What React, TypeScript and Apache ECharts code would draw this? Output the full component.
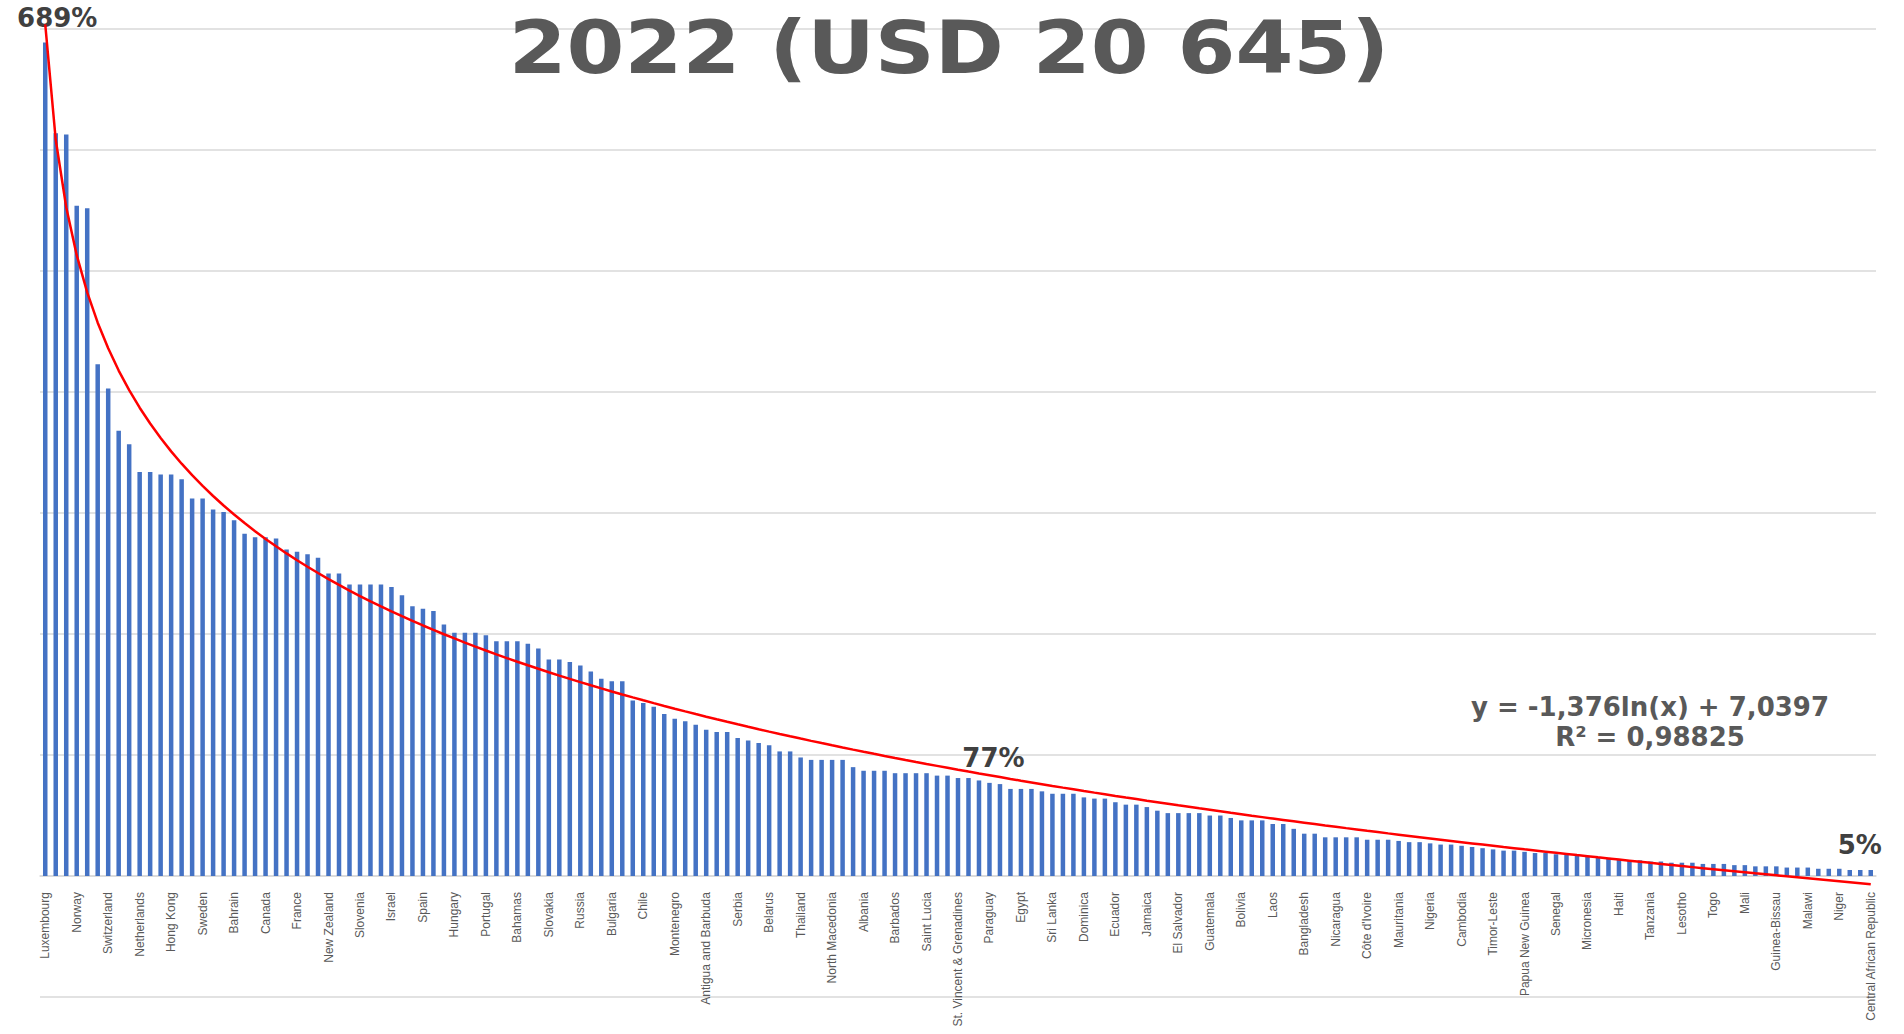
import React, { useEffect, useRef } from "react";
import * as echarts from "echarts";

// Countries ranked by GDP per capita (PPP), 2022
const countries: string[] = [
  "Luxembourg", "Singapore", "Ireland", "Norway", "Qatar", "United Arab Emirates", "Switzerland", "United States", "Denmark", "Netherlands",
  "Iceland", "Austria", "Hong Kong", "Belgium", "Germany", "Sweden", "Australia", "Finland", "Bahrain", "Saudi Arabia",
  "Malta", "Canada", "Kuwait", "South Korea", "France", "United Kingdom", "Italy", "New Zealand", "Cyprus", "Japan",
  "Slovenia", "Lithuania", "Czech Republic", "Israel", "Estonia", "Poland", "Spain", "Oman", "Croatia", "Hungary",
  "Latvia", "Romania", "Portugal", "Greece", "Panama", "Bahamas", "Trinidad and Tobago", "Malaysia", "Slovakia", "Seychelles",
  "Turkey", "Russia", "Kazakhstan", "Uruguay", "Bulgaria", "Mauritius", "Argentina", "Chile", "St. Kitts and Nevis", "Maldives",
  "Montenegro", "Costa Rica", "Guyana", "Antigua and Barbuda", "Dominican Republic", "Mexico", "Serbia", "China", "Georgia", "Belarus",
  "Turkmenistan", "Botswana", "Thailand", "Iran", "Armenia", "North Macedonia", "Azerbaijan", "Bosnia and Herzegovina", "Albania", "Colombia",
  "Brazil", "Barbados", "Suriname", "Gabon", "Saint Lucia", "Moldova", "Kosovo", "St. Vincent & Grenadines", "South Africa", "Grenada",
  "Paraguay", "Mongolia", "Ukraine", "Egypt", "Indonesia", "Peru", "Sri Lanka", "Fiji", "Tunisia", "Dominica",
  "Algeria", "Vietnam", "Ecuador", "Jordan", "Bhutan", "Jamaica", "Philippines", "Belize", "El Salvador", "Namibia",
  "Eswatini", "Guatemala", "Uzbekistan", "India", "Bolivia", "Morocco", "Samoa", "Laos", "Cabo Verde", "Tonga",
  "Bangladesh", "Honduras", "Ghana", "Nicaragua", "Angola", "Kyrgyzstan", "Côte d'Ivoire", "Djibouti", "Pakistan", "Mauritania",
  "Kenya", "Nepal", "Nigeria", "Vanuatu", "Tajikistan", "Cambodia", "Zambia", "Cameroon", "Timor-Leste", "Benin",
  "Myanmar", "Papua New Guinea", "Guinea", "Comoros", "Senegal", "Kiribati", "Zimbabwe", "Micronesia", "Solomon Islands", "Uganda",
  "Haiti", "Rwanda", "Ethiopia", "Tanzania", "Burkina Faso", "Gambia", "Lesotho", "Sudan", "Sierra Leone", "Togo",
  "Chad", "Afghanistan", "Mali", "Madagascar", "Liberia", "Guinea-Bissau", "Yemen", "Mozambique", "Malawi", "Eritrea",
  "DR Congo", "Niger", "Somalia", "South Sudan", "Central African Republic",
];

// GDP per capita as a multiple of the world average (1 = 100%)
const shareOfWorld: number[] = [
  6.89, 6.14, 6.13, 5.54, 5.52, 4.23, 4.03, 3.68, 3.57, 3.34,
  3.34, 3.32, 3.32, 3.28, 3.12, 3.12, 3.03, 3.01, 2.94, 2.83,
  2.80, 2.80, 2.79, 2.70, 2.68, 2.66, 2.63, 2.50, 2.50, 2.41,
  2.41, 2.41, 2.41, 2.39, 2.32, 2.23, 2.21, 2.19, 2.08, 2.01,
  2.01, 2.01, 1.99, 1.94, 1.94, 1.94, 1.92, 1.88, 1.79, 1.79,
  1.77, 1.74, 1.69, 1.63, 1.61, 1.61, 1.45, 1.43, 1.40, 1.34,
  1.30, 1.28, 1.25, 1.21, 1.19, 1.19, 1.14, 1.12, 1.10, 1.08,
  1.03, 1.03, 0.98, 0.96, 0.96, 0.96, 0.96, 0.90, 0.87, 0.87,
  0.87, 0.85, 0.85, 0.85, 0.85, 0.83, 0.83, 0.81, 0.81, 0.79,
  0.77, 0.76, 0.72, 0.72, 0.72, 0.70, 0.68, 0.68, 0.68, 0.65,
  0.64, 0.64, 0.61, 0.59, 0.59, 0.57, 0.54, 0.52, 0.52, 0.52,
  0.52, 0.50, 0.50, 0.48, 0.46, 0.46, 0.46, 0.43, 0.43, 0.39,
  0.35, 0.35, 0.32, 0.32, 0.32, 0.32, 0.30, 0.30, 0.30, 0.29,
  0.28, 0.28, 0.27, 0.26, 0.26, 0.25, 0.24, 0.23, 0.22, 0.21,
  0.21, 0.20, 0.19, 0.19, 0.18, 0.18, 0.17, 0.16, 0.15, 0.15,
  0.14, 0.13, 0.13, 0.12, 0.12, 0.11, 0.11, 0.11, 0.10, 0.10,
  0.10, 0.09, 0.09, 0.08, 0.08, 0.08, 0.07, 0.07, 0.07, 0.06,
  0.06, 0.06, 0.05, 0.05, 0.05,
];

// Bars that carry a value label, and the label's horizontal nudge
const labeledIndices: number[] = [0, 90, 174];
const labelOffsetsX: number[] = [12, 4, -11];

// Logarithmic trend line shown in the chart: y = a ln(x) + b
const TREND_SLOPE = -1.376;
const TREND_INTERCEPT = 7.0397;

const TITLE = "2022 (USD 20 645)";
const EQUATION = "y = -1,376ln(x) + 7,0397";
const R_SQUARED = "R² = 0,98825";

const Y_MIN = -1;
const Y_MAX = 7.2;
const Y_INTERVAL = 1;

const GRID_TOP = 5;
const GRID_BOTTOM = 37;
const CHART_H = 1034;

export default function App() {
  const ref = useRef<HTMLDivElement>(null);

  useEffect(() => {
    if (!ref.current) return;
    const chart = echarts.init(ref.current, undefined, { renderer: "svg" });

    const barData = shareOfWorld.map((v, i) => {
      const k = labeledIndices.indexOf(i);
      if (k < 0) return v;
      return {
        value: v,
        label: {
          show: true,
          position: "top",
          distance: 12,
          offset: [labelOffsetsX[k], 0],
          formatter: (p: any) => Math.round(p.value * 100) + "%",
          fontFamily: "DejaVu Sans",
          fontWeight: "bold",
          fontSize: 26,
          color: "#404040",
        },
      };
    });

    const trendData = shareOfWorld.map(
      (_, i) => TREND_SLOPE * Math.log(i + 1) + TREND_INTERCEPT
    );

    // pixel distance between the grid bottom (Y_MIN) and the zero line
    const plotH = CHART_H - GRID_TOP - GRID_BOTTOM;
    const zeroOffset = (plotH * (0 - Y_MIN)) / (Y_MAX - Y_MIN);

    chart.setOption({
      animation: false,
      backgroundColor: "#ffffff",
      grid: {
        left: 40,
        right: 28,
        top: GRID_TOP,
        bottom: GRID_BOTTOM,
        containLabel: false,
        outerBoundsMode: "none",
      },
      xAxis: {
        type: "category",
        data: countries,
        boundaryGap: true,
        position: "bottom",
        offset: -zeroOffset,
        axisLine: { onZero: false, lineStyle: { color: "#d9d9d9", width: 1.5 } },
        axisTick: { show: false },
        axisLabel: {
          interval: 2,
          rotate: 90,
          margin: 16,
          fontFamily: "Liberation Sans",
          fontSize: 12,
          color: "#595959",
        },
        splitLine: { show: false },
      },
      yAxis: {
        type: "value",
        min: Y_MIN,
        max: Y_MAX,
        interval: Y_INTERVAL,
        axisLine: { show: false },
        axisTick: { show: false },
        axisLabel: { show: false },
        splitLine: {
          show: true,
          showMaxLine: false,
          lineStyle: { color: "#d9d9d9", width: 1.5 },
        },
      },
      series: [
        {
          type: "bar",
          data: barData,
          barWidth: 4.5,
          itemStyle: { color: "#4472C4" },
          z: 2,
        },
        {
          type: "line",
          data: trendData,
          showSymbol: false,
          symbol: "none",
          smooth: false,
          lineStyle: { color: "#FF0000", width: 2.5 },
          z: 3,
        },
      ],
      graphic: [
        {
          type: "text",
          x: 949,
          y: 47,
          scaleX: 1.14,
          style: {
            text: TITLE,
            align: "center",
            verticalAlign: "middle",
            fontFamily: "DejaVu Sans",
            fontWeight: "bold",
            fontSize: 73,
            fill: "#595959",
          },
          z: 10,
        },
        {
          type: "text",
          x: 1650,
          y: 707,
          style: {
            text: EQUATION,
            align: "center",
            verticalAlign: "middle",
            fontFamily: "DejaVu Sans",
            fontWeight: "bold",
            fontSize: 26,
            fill: "#595959",
          },
          z: 10,
        },
        {
          type: "text",
          x: 1650,
          y: 737,
          style: {
            text: R_SQUARED,
            align: "center",
            verticalAlign: "middle",
            fontFamily: "DejaVu Sans",
            fontWeight: "bold",
            fontSize: 26,
            fill: "#595959",
          },
          z: 10,
        },
      ],
    });

    return () => chart.dispose();
  }, []);

  return (
    <div
      ref={ref}
      style={{ position: "fixed", left: 0, top: 0, width: 1904, height: 1034 }}
    />
  );
}
